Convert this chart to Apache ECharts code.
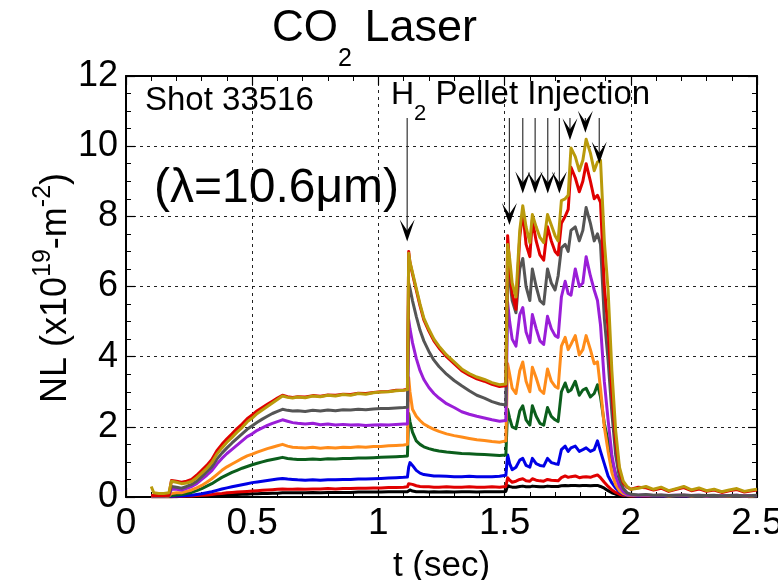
<!DOCTYPE html>
<html>
<head>
<meta charset="utf-8">
<title>CO2 Laser line density, shot 33516</title>
<script src="https://cdn.jsdelivr.net/npm/echarts@6/dist/echarts.min.js"></script>
<style>
  html, body { margin: 0; padding: 0; background: #fff; }
  #chart { width: 778px; height: 580px; }
</style>
</head>
<body>
<div id="chart"></div>
<script>
// ---- measured line density NL (x10^19 m^-2) on the CO2 laser chords ----
const timeSec = [
  0.10,0.11,0.13,0.15,0.17,0.18,
  0.20,0.22,0.24,0.26,0.28,0.30,0.32,0.34,0.36,0.38,
  0.40,0.42,0.44,0.46,0.48,0.50,0.52,0.54,0.56,0.58,
  0.60,0.62,0.64,0.66,0.68,
  0.71,0.74,0.77,0.80,0.83,0.86,0.89,0.92,0.95,0.98,1.01,1.04,1.07,1.10,1.115,
  1.12,1.125,1.135,1.15,1.165,1.18,1.20,1.22,1.24,1.27,1.30,1.33,1.36,1.39,1.42,1.45,1.48,1.505,
  1.512,1.52,1.53,1.545,1.56,1.572,1.585,1.60,1.61,1.625,
  1.64,1.655,1.67,1.685,1.70,1.712,1.725,1.74,1.752,1.763,
  1.78,1.796,1.81,1.823,1.84,1.855,1.868,1.88,1.895,1.91,
  1.925,1.94,1.955,1.97,1.985,2.00,
  2.03,2.06,2.09,2.12,2.15,2.18,2.21,2.24,2.27,2.30,2.33,2.36,2.39,2.42,2.45,2.48,2.50
];

const nlGold = [
  0.30,0.12,0.10,0.10,0.12,0.45,
  0.42,0.38,0.40,0.44,0.55,0.68,0.82,0.98,1.22,1.40,
  1.56,1.70,1.85,1.98,2.14,2.25,2.38,2.48,2.58,2.68,
  2.78,2.88,2.84,2.82,2.85,
  2.83,2.88,2.86,2.90,2.88,2.92,2.90,2.95,2.93,2.97,2.99,3.00,3.03,3.04,3.06,
  6.95,6.70,6.40,5.95,5.50,5.10,4.78,4.50,4.30,4.05,3.85,3.65,3.52,3.42,3.35,3.26,3.20,3.22,
  7.20,6.80,6.10,5.70,7.60,8.30,7.70,7.25,8.05,7.70,
  7.40,7.25,8.05,7.75,7.45,7.30,8.45,8.50,8.60,9.95,
  9.70,9.30,9.60,10.20,9.80,9.30,9.55,9.60,7.30,5.90,
  3.60,1.90,0.85,0.45,0.30,0.22,
  0.25,0.30,0.22,0.28,0.18,0.24,0.30,0.20,0.26,0.18,0.22,0.15,0.20,0.24,0.16,0.20,0.22
];

const nlRedHigh = [
  0.04,0.04,0.04,0.04,0.05,0.47,
  0.45,0.42,0.45,0.50,0.62,0.76,0.90,1.07,1.32,1.50,
  1.66,1.80,1.95,2.08,2.23,2.34,2.46,2.55,2.64,2.73,
  2.82,2.90,2.86,2.84,2.86,
  2.85,2.89,2.87,2.91,2.90,2.93,2.92,2.96,2.95,2.98,3.00,3.01,3.04,3.05,3.07,
  7.00,6.68,6.36,5.90,5.45,5.05,4.73,4.45,4.25,4.00,3.80,3.60,3.47,3.37,3.30,3.21,3.15,3.17,
  7.45,6.60,5.80,5.35,7.40,8.15,7.20,6.85,7.90,7.30,
  6.90,6.75,7.70,7.30,7.00,6.90,7.80,8.00,8.20,9.40,
  9.10,8.70,9.00,9.50,9.00,8.50,8.60,8.40,6.00,4.80,
  3.00,1.60,0.75,0.40,0.28,0.22,
  0.28,0.26,0.20,0.25,0.16,0.22,0.27,0.18,0.23,0.16,0.20,0.13,0.18,0.21,0.14,0.18,0.20
];

const nlGray = [
  0.04,0.03,0.03,0.03,0.05,0.30,
  0.28,0.25,0.30,0.36,0.45,0.58,0.72,0.86,1.08,1.25,
  1.40,1.54,1.67,1.80,1.93,2.03,2.13,2.22,2.30,2.38,
  2.44,2.50,2.47,2.45,2.46,
  2.44,2.47,2.45,2.48,2.46,2.49,2.48,2.50,2.49,2.51,2.52,2.52,2.54,2.55,2.56,
  6.10,5.95,5.60,5.15,4.75,4.45,4.15,3.90,3.72,3.50,3.32,3.17,3.03,2.90,2.82,2.72,2.65,2.62,
  6.65,6.20,5.60,5.25,6.50,6.80,6.00,5.60,6.50,6.00,
  5.60,5.50,6.50,6.10,5.90,6.30,7.10,7.20,7.00,7.60,
  7.70,7.30,7.60,8.25,7.80,7.30,7.50,7.20,5.10,3.90,
  2.40,1.20,0.55,0.25,0.12,0.08,
  0.06,0.07,0.05,0.06,0.04,0.05,0.06,0.04,0.05,0.04,0.05,0.03,0.04,0.05,0.03,0.04,0.05
];

const nlPurple = [
  0.03,0.03,0.03,0.03,0.04,0.22,
  0.22,0.20,0.25,0.30,0.38,0.50,0.62,0.75,0.94,1.10,
  1.24,1.36,1.48,1.60,1.72,1.80,1.90,1.97,2.04,2.10,
  2.15,2.20,2.16,2.12,2.10,
  2.08,2.10,2.06,2.08,2.05,2.07,2.05,2.06,2.04,2.05,2.06,2.05,2.07,2.08,2.08,
  5.05,4.80,4.40,3.95,3.60,3.35,3.12,2.95,2.82,2.66,2.55,2.43,2.36,2.30,2.25,2.20,2.16,2.18,
  5.55,5.00,4.50,4.30,5.20,5.40,4.70,4.40,5.20,4.80,
  4.45,4.35,5.15,4.80,4.60,4.55,5.70,6.15,5.80,5.75,
  6.50,6.00,6.10,6.85,6.30,5.90,5.60,4.90,3.30,2.20,
  1.20,0.60,0.30,0.15,0.08,0.06,
  0.05,0.06,0.04,0.05,0.04,0.05,0.05,0.04,0.05,0.03,0.04,0.03,0.04,0.05,0.03,0.04,0.04
];

const nlOrange = [
  0.02,0.02,0.02,0.02,0.03,0.10,
  0.12,0.12,0.16,0.20,0.26,0.33,0.42,0.52,0.64,0.76,
  0.86,0.94,1.02,1.10,1.17,1.22,1.28,1.33,1.38,1.42,
  1.46,1.50,1.45,1.42,1.41,
  1.40,1.42,1.39,1.41,1.40,1.42,1.41,1.43,1.42,1.44,1.44,1.46,1.47,1.48,1.50,
  3.40,3.00,2.50,2.30,2.18,2.08,2.00,1.93,1.87,1.80,1.75,1.71,1.67,1.63,1.61,1.58,1.56,1.60,
  3.80,3.50,3.10,2.95,3.60,3.85,3.30,3.00,3.70,3.40,
  3.05,2.95,3.65,3.30,3.15,3.10,4.30,4.55,4.20,4.35,
  4.60,4.05,4.20,4.60,4.20,3.80,3.85,3.10,2.00,1.30,
  0.70,0.35,0.18,0.10,0.06,0.05,
  0.04,0.05,0.04,0.05,0.03,0.04,0.05,0.03,0.04,0.03,0.04,0.03,0.03,0.04,0.03,0.03,0.04
];

const nlGreen = [
  0.02,0.02,0.02,0.02,0.02,0.04,
  0.06,0.07,0.10,0.13,0.18,0.24,0.31,0.38,0.47,0.56,
  0.63,0.70,0.76,0.82,0.87,0.92,0.96,1.00,1.04,1.07,
  1.10,1.13,1.10,1.08,1.07,
  1.07,1.08,1.07,1.09,1.08,1.10,1.10,1.11,1.11,1.12,1.13,1.14,1.15,1.16,1.17,
  2.38,2.15,1.85,1.60,1.50,1.43,1.38,1.34,1.31,1.28,1.26,1.24,1.23,1.22,1.21,1.20,1.18,1.20,
  2.50,2.25,2.00,1.95,2.45,2.60,2.20,2.05,2.60,2.30,
  2.10,2.05,2.55,2.30,2.20,2.15,3.00,3.25,3.00,3.05,
  3.30,2.90,3.05,3.10,2.85,2.95,3.20,2.85,2.10,1.60,
  1.05,0.65,0.35,0.18,0.10,0.06,
  0.04,0.04,0.03,0.04,0.03,0.03,0.04,0.03,0.03,0.02,0.03,0.02,0.03,0.03,0.02,0.03,0.03
];

const nlBlue = [
  0.02,0.02,0.02,0.02,0.02,0.02,
  0.03,0.03,0.04,0.05,0.07,0.09,0.12,0.15,0.19,0.23,
  0.26,0.29,0.32,0.35,0.38,0.41,0.43,0.45,0.47,0.49,
  0.51,0.53,0.51,0.50,0.49,
  0.48,0.49,0.48,0.49,0.49,0.50,0.50,0.51,0.51,0.52,0.53,0.54,0.55,0.56,0.57,
  0.85,0.98,0.90,0.76,0.68,0.64,0.62,0.60,0.60,0.59,0.58,0.58,0.59,0.58,0.58,0.58,0.59,0.62,
  1.20,0.95,0.78,0.85,1.05,1.10,0.90,0.85,1.10,0.95,
  0.90,0.88,1.10,0.98,0.95,0.93,1.35,1.45,1.30,1.40,
  1.45,1.30,1.35,1.40,1.30,1.35,1.60,1.30,0.95,0.60,
  0.40,0.25,0.15,0.08,0.05,0.04,
  0.03,0.04,0.03,0.03,0.02,0.03,0.03,0.02,0.03,0.02,0.03,0.02,0.02,0.03,0.02,0.02,0.03
];

const nlRedLow = [
  0.01,0.01,0.01,0.01,0.01,0.01,
  0.02,0.02,0.03,0.03,0.04,0.05,0.06,0.07,0.09,0.10,
  0.12,0.13,0.14,0.15,0.16,0.17,0.18,0.19,0.20,0.21,
  0.22,0.23,0.22,0.22,0.23,
  0.22,0.23,0.23,0.24,0.23,0.24,0.24,0.25,0.25,0.26,0.26,0.27,0.27,0.28,0.29,
  0.38,0.41,0.36,0.32,0.30,0.29,0.29,0.28,0.28,0.29,0.28,0.28,0.29,0.28,0.28,0.29,0.28,0.30,
  0.55,0.48,0.42,0.45,0.50,0.52,0.46,0.45,0.52,0.48,
  0.46,0.45,0.50,0.48,0.47,0.46,0.55,0.60,0.56,0.58,
  0.60,0.55,0.57,0.58,0.56,0.60,0.63,0.55,0.42,0.30,
  0.20,0.13,0.08,0.05,0.04,0.03,
  0.03,0.03,0.02,0.03,0.02,0.02,0.03,0.02,0.02,0.02,0.02,0.02,0.02,0.02,0.02,0.02,0.02
];

const nlBlack = [
  0.01,0.01,0.01,0.01,0.01,0.01,
  0.01,0.02,0.02,0.02,0.03,0.03,0.04,0.04,0.05,0.06,
  0.06,0.07,0.07,0.08,0.08,0.09,0.09,0.10,0.10,0.11,
  0.11,0.12,0.12,0.12,0.12,
  0.12,0.13,0.12,0.13,0.13,0.13,0.13,0.14,0.14,0.14,0.14,0.15,0.15,0.15,0.15,
  0.18,0.20,0.17,0.15,0.15,0.15,0.14,0.15,0.14,0.15,0.14,0.15,0.15,0.14,0.15,0.15,0.15,0.16,
  0.32,0.30,0.28,0.28,0.30,0.31,0.29,0.29,0.31,0.30,
  0.29,0.29,0.31,0.30,0.30,0.30,0.32,0.33,0.32,0.33,
  0.33,0.32,0.33,0.33,0.32,0.33,0.33,0.30,0.25,0.18,
  0.12,0.08,0.05,0.04,0.03,0.03,
  0.02,0.02,0.02,0.02,0.02,0.02,0.02,0.02,0.02,0.02,0.02,0.02,0.02,0.02,0.02,0.02,0.02
];

// pellet injection markers: time, arrow tip level, arrow top level
const arrowTimes = [1.114, 1.519, 1.572, 1.621, 1.671, 1.717, 1.759, 1.820, 1.875];
const arrowTips  = [7.28, 7.75, 8.65, 8.65, 8.65, 8.65, 10.17, 10.38, 9.50];
const arrowTop = 10.8;

const xTickLabels = ['0', '0.5', '1', '1.5', '2', '2.5'];
const yTickLabels = ['0', '2', '4', '6', '8', '10', '12'];

// drawing order: bottom trace first, gold trace last (on top)
const traces = [
  { name: 'black',  color: '#000000', values: nlBlack },
  { name: 'redLow', color: '#E00000', values: nlRedLow },
  { name: 'blue',   color: '#0000E6', values: nlBlue },
  { name: 'green',  color: '#0B5E1C', values: nlGreen },
  { name: 'orange', color: '#FF8C1A', values: nlOrange },
  { name: 'purple', color: '#9A1ED8', values: nlPurple },
  { name: 'gray',   color: '#555555', values: nlGray },
  { name: 'redHigh',color: '#E00000', values: nlRedHigh },
  { name: 'gold',   color: '#B99A0B', values: nlGold }
];

const FONT = '"Liberation Sans", Arial, Helvetica, sans-serif';
const measureCtx = document.createElement('canvas').getContext('2d');
function textWidth(str, size) {
  measureCtx.font = size + 'px ' + FONT;
  return measureCtx.measureText(str).width;
}
// lay out a run of text pieces (with sub/superscripts) left to right
function textRun(parts, x0, yMid) {
  let x = x0;
  const out = [];
  parts.forEach(([t, size, dy]) => {
    if (t.trim().length) {
      out.push({
        type: 'text', x: x, y: yMid + dy, z: 100,
        style: { text: t, fontSize: size, fontFamily: FONT, fill: '#000',
                 align: 'left', verticalAlign: 'middle',
                 textAlign: 'left', textVerticalAlign: 'middle' }
      });
    }
    x += textWidth(t, size);
  });
  return { elements: out, width: x - x0 };
}

const titleRun = textRun([['CO', 44, 0], ['2', 25, 30], [' Laser', 45, 0]], 272, 29);
const shotRun = textRun([['Shot 33516', 33, 0]], 145, 101);
const lambdaRun = textRun([['(\u03bb=10.6\u03bcm)', 48, 0]], 154, 189);
const pelletRun = textRun([['H', 32, 0], ['2', 22, 19], [' Pellet Injection', 33, 0]], 391, 95);
const xNameRun = textRun([['t (sec)', 35, 0]], 0, 0);
const xName = textRun([['t (sec)', 35, 0]], 441.5 - xNameRun.width / 2, 566);

const yParts = [['NL (x10', 36, 0], ['19', 25, -13], ['-m', 36, 0], ['-2', 25, -13], [')', 36, 0]];
const yMeasure = textRun(yParts, 0, 0);
const yRun = textRun(yParts, -yMeasure.width / 2, 0);

const chart = echarts.init(document.getElementById('chart'), null, { renderer: 'canvas' });

const axisLineStyle = { color: '#000', width: 2 };
const tickCommon = { show: true, inside: true, length: 9, lineStyle: { color: '#000', width: 1.2 } };
const minorCommon = { show: true, length: 5, lineStyle: { color: '#000', width: 1 } };
const gridDash = { show: true, lineStyle: { color: '#222', width: 1, type: [3, 4] } };

chart.setOption({
  animation: false,
  backgroundColor: '#ffffff',
  grid: { left: 126, right: 21, top: 76, bottom: 83, containLabel: false, outerBoundsMode: 'none' },
  xAxis: [
    {
      type: 'value', min: 0, max: 2.5, interval: 0.5, position: 'bottom',
      axisLine: { show: true, onZero: false, lineStyle: axisLineStyle },
      axisTick: tickCommon,
      minorTick: Object.assign({ splitNumber: 5 }, minorCommon),
      axisLabel: {
        show: true, color: '#000', fontSize: 37, fontFamily: FONT, margin: 8,
        formatter: v => xTickLabels[Math.round(v / 0.5)]
      },
      splitLine: gridDash
    },
    {
      type: 'value', min: 0, max: 2.5, interval: 0.5, position: 'top',
      axisLine: { show: true, onZero: false, lineStyle: axisLineStyle },
      axisTick: tickCommon,
      minorTick: Object.assign({ splitNumber: 5 }, minorCommon),
      axisLabel: { show: false },
      splitLine: { show: false }
    }
  ],
  yAxis: [
    {
      type: 'value', min: 0, max: 12, interval: 2, position: 'left',
      axisLine: { show: true, onZero: false, lineStyle: axisLineStyle },
      axisTick: tickCommon,
      minorTick: Object.assign({ splitNumber: 4 }, minorCommon),
      axisLabel: {
        show: true, color: '#000', fontSize: 36, fontFamily: FONT, margin: 8,
        formatter: v => yTickLabels[Math.round(v / 2)]
      },
      splitLine: gridDash
    },
    {
      type: 'value', min: 0, max: 12, interval: 2, position: 'right',
      axisLine: { show: true, onZero: false, lineStyle: axisLineStyle },
      axisTick: tickCommon,
      minorTick: Object.assign({ splitNumber: 4 }, minorCommon),
      axisLabel: { show: false },
      splitLine: { show: false }
    }
  ],
  series: traces.map((tr, k) => ({
    name: tr.name,
    type: 'line',
    xAxisIndex: 0, yAxisIndex: 0,
    showSymbol: false,
    symbol: 'none',
    z: 2 + k * 0.01,
    lineStyle: { color: tr.color, width: 3, join: 'round' },
    data: timeSec.map((t, i) => [t, tr.values[i]])
  })).concat([{
    type: 'custom',
    name: 'pellets',
    xAxisIndex: 0, yAxisIndex: 0,
    z: 5,
    silent: true,
    renderItem: (params, api) => {
      const tip = api.coord([api.value(0), api.value(1)]);
      const top = api.coord([api.value(0), api.value(2)]);
      const hw = 7.5, hh = 22, notch = 11;
      return {
        type: 'group',
        children: [
          { type: 'line',
            shape: { x1: top[0], y1: top[1], x2: tip[0], y2: tip[1] - notch },
            style: { stroke: '#333', lineWidth: 1.2 } },
          { type: 'polygon',
            shape: { points: [[tip[0], tip[1]], [tip[0] - hw, tip[1] - hh],
                              [tip[0], tip[1] - notch], [tip[0] + hw, tip[1] - hh]] },
            style: { fill: '#000' } }
        ]
      };
    },
    data: arrowTimes.map((t, i) => [t, arrowTips[i], arrowTop])
  }]),
  graphic: [].concat(
    titleRun.elements,
    shotRun.elements,
    lambdaRun.elements,
    pelletRun.elements,
    xName.elements,
    [{ type: 'group', x: 56, y: 288, rotation: Math.PI / 2, children: yRun.elements }]
  )
});
</script>
</body>
</html>
